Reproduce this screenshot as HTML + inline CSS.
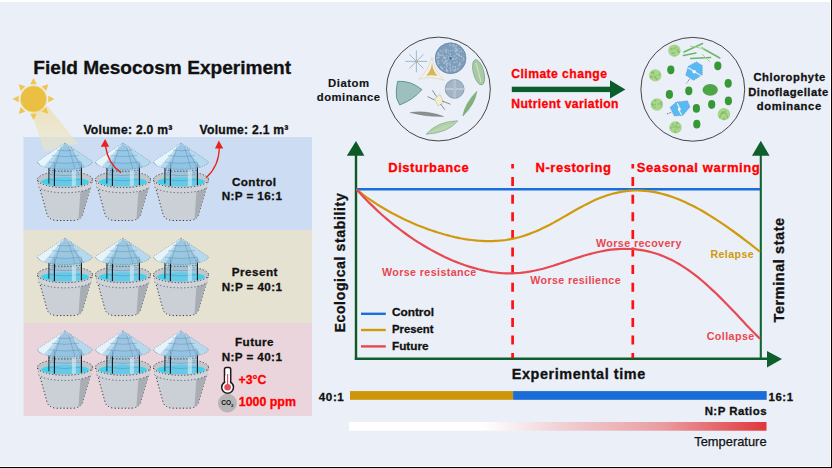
<!DOCTYPE html>
<html><head><meta charset="utf-8"><style>
html,body{margin:0;padding:0;background:#fff;}
svg{display:block;font-family:"Liberation Sans", sans-serif;}
</style></head><body>
<svg width="832" height="468" viewBox="0 0 832 468">
<defs>
<g id="tank">
  <path d="M-27.4,37 L-18.2,70 Q-17,76.5 -9,77.4 L9,77.4 Q17,76.5 18.2,70 L27.6,37 Z" fill="#cbd0d7" stroke="#222" stroke-width="0.9" stroke-dasharray="1.2,2.2"/>
  <path d="M15.5,49 L27.2,39 L18.2,70 Q17.6,74.5 13.5,76.3 Z" fill="#a9aeb5"/>
  <ellipse cx="0.1" cy="42.2" rx="27.2" ry="7.3" fill="#d0d4da"/>
  <path d="M-26.5,44 A27.2,7.3 0 0 0 26.5,44" fill="none" stroke="#444" stroke-width="0.8" stroke-dasharray="1.2,2.2"/>
  <ellipse cx="0.1" cy="36.4" rx="27.5" ry="8.1" fill="#c2c5ca" stroke="#222" stroke-width="0.8" stroke-dasharray="1.2,2"/>
  <ellipse cx="0.1" cy="38.6" rx="23.8" ry="4.6" fill="#3dd2ee"/>
  <path d="M-16,20 L-16,41.5 Q0,46 16.5,41.5 L16.5,20 Z" fill="#86c3e3" opacity="0.55"/>
  <path d="M-15,31.5 Q0,33.5 15,31.5 M-15,36.5 Q0,39 15,36.5" fill="none" stroke="#3f78a0" stroke-width="0.6" opacity="0.6"/>
  <path d="M-16,27 Q0,29 16.5,27" fill="none" stroke="#333" stroke-width="0.7" stroke-dasharray="1.5,1.5"/>
  <rect x="7" y="27" width="4" height="16" fill="#eef8fc" opacity="0.5"/>
  <path d="M-10.5,20 V43 M16.5,20 V42" stroke="#141414" stroke-width="1.1"/>
  <path d="M-16,20 V40.5" stroke="#1a1a1a" stroke-width="0.9"/>
  <path d="M0,0 L-27.5,18.5 A27.5,7.8 0 0 0 27.5,18.5 Z" fill="#8cc2e4" stroke="#3a5a70" stroke-width="0.6" stroke-dasharray="1.2,1.2" opacity="0.82"/>
  <path d="M0,0 L-27.5,18.5 Q-25.5,22 -21,23.6 Z" fill="#eef8fd" opacity="0.9"/>
  <path d="M0,0 L-21,23.6 L-15.5,25 Z" fill="#c3e2f3" opacity="0.75"/>
  <path d="M0,0 L27.5,18.5 Q25.5,22 20,24 Z" fill="#bfdff2" opacity="0.75"/>
  <path d="M-8,7 Q0,8.5 9,7 M-13,12.5 Q0,14.5 14,12.5 M-16,19 Q0,21.5 17,19" fill="none" stroke="#3f78a0" stroke-width="0.6" opacity="0.55"/>
  <path d="M-3.5,3 L-10.5,25.5 M3.5,3 L10,25.5 M5.5,3 L16.5,25.5" stroke="#4d7894" stroke-width="0.5" opacity="0.6"/>
</g>
<linearGradient id="tg" x1="0" x2="1" y1="0" y2="0">
<stop offset="0" stop-color="#ffffff"/><stop offset="0.32" stop-color="#ffffff"/><stop offset="0.4" stop-color="#f8ecee"/><stop offset="0.5" stop-color="#f0d2d6"/><stop offset="0.75" stop-color="#e99da2"/><stop offset="1" stop-color="#e1373b"/>
</linearGradient>
<linearGradient id="beam" x1="0" x2="0" y1="0" y2="1">
<stop offset="0" stop-color="#ecdfae" stop-opacity="0.8"/><stop offset="1" stop-color="#ede6c8" stop-opacity="0.55"/>
</linearGradient>
</defs>
<rect x="0" y="0" width="832" height="468" fill="#ffffff"/>
<rect x="0" y="2" width="830" height="464" fill="#ebeff8"/>
<rect x="831" y="0" width="1" height="468" fill="#000"/>
<rect x="0" y="467" width="832" height="1" fill="#000"/>

<rect x="23.5" y="137" width="288.5" height="93" fill="#ccdcf2"/>
<rect x="23.5" y="230" width="288.5" height="93" fill="#e5e2d2"/>
<rect x="23.5" y="323" width="288.5" height="93" fill="#ebd5dc"/>

<polygon points="31.5,113 47.5,106 78,144 44.6,151.5" fill="url(#beam)"/>
<polygon points="33.5,78.0 36.8,84.2 30.2,84.2" fill="#eec650"/><polygon points="48.3,84.2 46.3,90.9 41.6,86.2" fill="#eec650"/><polygon points="54.5,99.0 48.3,102.3 48.3,95.7" fill="#eec650"/><polygon points="48.3,113.8 41.6,111.8 46.3,107.1" fill="#eec650"/><polygon points="33.5,120.0 30.2,113.8 36.8,113.8" fill="#eec650"/><polygon points="18.7,113.8 20.7,107.1 25.4,111.8" fill="#eec650"/><polygon points="12.5,99.0 18.7,95.7 18.7,102.3" fill="#eec650"/><polygon points="18.7,84.2 25.4,86.2 20.7,90.9" fill="#eec650"/><circle cx="33.5" cy="99" r="13.2" fill="#eabf42" stroke="#f2dc9a" stroke-width="0.8"/>
<text x="33.3" y="73.7" font-size="19.1" fill="#111" font-weight="bold" text-anchor="start"  stroke="#111" stroke-width="0.3">Field Mesocosm Experiment</text>
<text x="83.40" y="133.8" font-size="12.14" letter-spacing="0.274" fill="#111" font-weight="bold" text-anchor="start"  stroke="#111" stroke-width="0.3">Volume: 2.0 m³</text>
<text x="199.50" y="133.8" font-size="12.14" letter-spacing="0.274" fill="#111" font-weight="bold" text-anchor="start"  stroke="#111" stroke-width="0.3">Volume: 2.1 m³</text>
<use href="#tank" x="64.9" y="143.1"/><use href="#tank" x="122.9" y="143.1"/><use href="#tank" x="180.9" y="143.1"/><use href="#tank" x="64.9" y="238.2"/><use href="#tank" x="122.9" y="238.2"/><use href="#tank" x="180.9" y="238.2"/><use href="#tank" x="64.9" y="330.8"/><use href="#tank" x="122.9" y="330.8"/><use href="#tank" x="180.9" y="330.8"/>
<path d="M121,172.6 Q108,164 105.5,146" fill="none" stroke="#e8231b" stroke-width="1.5"/>
<polygon points="105.1,138.9 100.8,146.8 109.2,146.8" fill="#e8231b"/>
<path d="M206.2,177.7 Q219,166 219.3,148" fill="none" stroke="#e8231b" stroke-width="1.25"/>
<polygon points="218.8,140.6 215,148.5 223.2,148.5" fill="#e8231b"/>

<text x="254.22" y="186" font-size="11.70" letter-spacing="0.443" fill="#111" font-weight="bold" text-anchor="middle"  stroke="#111" stroke-width="0.3">Control</text>
<text x="252.00" y="200" font-size="11.70" letter-spacing="0.402" fill="#111" font-weight="bold" text-anchor="middle"  stroke="#111" stroke-width="0.3">N:P = 16:1</text>
<text x="254.83" y="276.2" font-size="11.70" letter-spacing="0.457" fill="#111" font-weight="bold" text-anchor="middle"  stroke="#111" stroke-width="0.3">Present</text>
<text x="252.10" y="290.5" font-size="11.70" letter-spacing="0.402" fill="#111" font-weight="bold" text-anchor="middle"  stroke="#111" stroke-width="0.3">N:P = 40:1</text>
<text x="254.53" y="346.3" font-size="11.70" letter-spacing="0.465" fill="#111" font-weight="bold" text-anchor="middle"  stroke="#111" stroke-width="0.3">Future</text>
<text x="252.00" y="360.5" font-size="11.70" letter-spacing="0.402" fill="#111" font-weight="bold" text-anchor="middle"  stroke="#111" stroke-width="0.3">N:P = 40:1</text>

<g>
<rect x="224.5" y="367.6" width="6.2" height="19" rx="1.8" fill="#fff" stroke="#1a1a1a" stroke-width="1.5"/>
<circle cx="227.6" cy="387.3" r="5.9" fill="#fff" stroke="#1a1a1a" stroke-width="1.5"/>
<rect x="225.3" y="376" width="4.6" height="8" fill="#fff"/>
<line x1="227.6" y1="374" x2="227.6" y2="386" stroke="#e0505c" stroke-width="1.2"/>
<circle cx="227.6" cy="387.3" r="3.3" fill="#e0505c"/>
</g>
<text x="238.5" y="384.4" font-size="12.3" fill="#ff0000" font-weight="bold" text-anchor="start"  stroke="#ff0000" stroke-width="0.3">+3°C</text>
<circle cx="227.4" cy="403.2" r="9.4" fill="#b6b6b8"/>
<text x="227.4" y="405.4" font-size="6.6" font-weight="bold" fill="#111" text-anchor="middle">CO<tspan font-size="4.4" dy="1.4">2</tspan></text>
<text x="238.8" y="406.2" font-size="12.4" fill="#ff0000" font-weight="bold" text-anchor="start"  stroke="#ff0000" stroke-width="0.3">1000 ppm</text>

<text x="348.85" y="86.8" font-size="11.37" letter-spacing="0.492" fill="#111" font-weight="bold" text-anchor="middle" stroke="#111" stroke-width="0.15">Diatom</text>
<text x="348.74" y="101" font-size="11.28" letter-spacing="0.475" fill="#111" font-weight="bold" text-anchor="middle" stroke="#111" stroke-width="0.15">dominance</text>

<g>
  <circle cx="438.4" cy="89.05" r="51.9" fill="none" stroke="#262626" stroke-width="0.85"/>
  <circle cx="450.6" cy="58.2" r="15.5" fill="#6f92b3"/><circle cx="450.6" cy="58.2" r="15" fill="#7d9cba"/><circle cx="459.2" cy="67.8" r="0.5" fill="#a9c0d6"/><circle cx="450.3" cy="68.0" r="0.7" fill="#a9c0d6"/><circle cx="442.1" cy="59.7" r="0.5" fill="#a9c0d6"/><circle cx="452.6" cy="59.5" r="0.7" fill="#a9c0d6"/><circle cx="439.5" cy="63.2" r="0.5" fill="#a9c0d6"/><circle cx="448.2" cy="51.4" r="0.5" fill="#a9c0d6"/><circle cx="446.8" cy="55.8" r="0.7" fill="#a9c0d6"/><circle cx="452.8" cy="58.6" r="0.9" fill="#a9c0d6"/><circle cx="463.7" cy="59.0" r="0.9" fill="#a9c0d6"/><circle cx="452.5" cy="67.1" r="0.5" fill="#a9c0d6"/><circle cx="438.5" cy="56.1" r="0.7" fill="#a9c0d6"/><circle cx="442.8" cy="55.5" r="0.9" fill="#a9c0d6"/><circle cx="452.4" cy="67.5" r="0.7" fill="#a9c0d6"/><circle cx="458.7" cy="54.2" r="0.9" fill="#a9c0d6"/><circle cx="454.5" cy="56.1" r="0.9" fill="#a9c0d6"/><circle cx="463.6" cy="57.6" r="0.5" fill="#a9c0d6"/><circle cx="450.0" cy="45.0" r="0.9" fill="#a9c0d6"/><circle cx="436.8" cy="58.1" r="0.9" fill="#a9c0d6"/><circle cx="456.1" cy="48.2" r="0.7" fill="#a9c0d6"/><circle cx="447.7" cy="71.7" r="0.7" fill="#a9c0d6"/><circle cx="456.3" cy="50.0" r="0.9" fill="#a9c0d6"/><circle cx="456.5" cy="50.5" r="0.9" fill="#a9c0d6"/><circle cx="453.2" cy="49.6" r="0.5" fill="#a9c0d6"/><circle cx="441.8" cy="67.9" r="0.9" fill="#a9c0d6"/><circle cx="450.3" cy="54.1" r="0.9" fill="#a9c0d6"/><circle cx="438.3" cy="57.5" r="0.9" fill="#a9c0d6"/><circle cx="455.2" cy="51.0" r="0.9" fill="#a9c0d6"/><circle cx="453.5" cy="58.7" r="0.9" fill="#a9c0d6"/><circle cx="457.0" cy="49.3" r="0.9" fill="#a9c0d6"/><circle cx="446.1" cy="61.8" r="0.9" fill="#a9c0d6"/><circle cx="450.8" cy="59.7" r="0.5" fill="#a9c0d6"/><circle cx="438.0" cy="55.0" r="0.5" fill="#a9c0d6"/><circle cx="443.8" cy="62.8" r="0.9" fill="#a9c0d6"/><circle cx="442.5" cy="68.8" r="0.9" fill="#a9c0d6"/><circle cx="437.5" cy="54.1" r="0.5" fill="#a9c0d6"/><circle cx="440.9" cy="66.9" r="0.9" fill="#a9c0d6"/><circle cx="445.6" cy="57.8" r="0.9" fill="#a9c0d6"/><circle cx="454.4" cy="71.3" r="0.7" fill="#a9c0d6"/><circle cx="457.8" cy="50.5" r="0.5" fill="#a9c0d6"/><circle cx="459.0" cy="54.9" r="0.7" fill="#a9c0d6"/><circle cx="450.1" cy="58.5" r="0.9" fill="#a9c0d6"/><circle cx="442.8" cy="50.5" r="0.7" fill="#a9c0d6"/><circle cx="440.4" cy="50.8" r="0.9" fill="#a9c0d6"/><circle cx="455.3" cy="67.8" r="0.5" fill="#a9c0d6"/><circle cx="454.3" cy="46.3" r="0.7" fill="#a9c0d6"/><circle cx="463.9" cy="61.0" r="0.5" fill="#a9c0d6"/><circle cx="452.2" cy="59.1" r="0.5" fill="#a9c0d6"/><circle cx="450.8" cy="50.8" r="0.7" fill="#a9c0d6"/><circle cx="459.1" cy="65.2" r="0.7" fill="#a9c0d6"/><circle cx="449.2" cy="63.7" r="0.7" fill="#a9c0d6"/><circle cx="444.9" cy="57.2" r="0.7" fill="#a9c0d6"/><circle cx="446.1" cy="52.1" r="0.9" fill="#a9c0d6"/><circle cx="446.4" cy="66.9" r="0.5" fill="#a9c0d6"/><circle cx="447.5" cy="65.8" r="0.5" fill="#a9c0d6"/><circle cx="450.2" cy="65.2" r="0.9" fill="#a9c0d6"/><circle cx="444.2" cy="57.8" r="0.9" fill="#a9c0d6"/><circle cx="438.0" cy="64.0" r="0.5" fill="#a9c0d6"/><circle cx="455.9" cy="58.8" r="0.9" fill="#a9c0d6"/><circle cx="459.7" cy="55.9" r="0.9" fill="#a9c0d6"/><circle cx="446.1" cy="48.9" r="0.5" fill="#a9c0d6"/><circle cx="461.6" cy="56.6" r="0.9" fill="#a9c0d6"/><circle cx="444.0" cy="57.5" r="0.9" fill="#a9c0d6"/><circle cx="461.9" cy="60.4" r="0.7" fill="#a9c0d6"/><circle cx="445.7" cy="50.5" r="0.9" fill="#a9c0d6"/><circle cx="446.5" cy="71.3" r="0.5" fill="#a9c0d6"/><circle cx="446.1" cy="70.4" r="0.7" fill="#a9c0d6"/><circle cx="457.2" cy="54.4" r="0.5" fill="#a9c0d6"/><circle cx="444.5" cy="61.7" r="0.5" fill="#a9c0d6"/><circle cx="438.6" cy="53.4" r="0.9" fill="#a9c0d6"/><circle cx="456.4" cy="45.8" r="0.9" fill="#a9c0d6"/><circle cx="438.2" cy="61.3" r="0.9" fill="#a9c0d6"/><circle cx="448.7" cy="56.3" r="0.5" fill="#a9c0d6"/><circle cx="447.0" cy="63.4" r="0.9" fill="#a9c0d6"/><circle cx="459.2" cy="51.7" r="0.7" fill="#a9c0d6"/><circle cx="459.7" cy="65.2" r="0.7" fill="#a9c0d6"/><circle cx="448.8" cy="58.2" r="0.9" fill="#a9c0d6"/><circle cx="459.8" cy="48.6" r="0.5" fill="#a9c0d6"/><circle cx="457.8" cy="69.0" r="0.9" fill="#a9c0d6"/><circle cx="452.3" cy="50.2" r="0.5" fill="#a9c0d6"/><circle cx="450.1" cy="62.5" r="0.7" fill="#a9c0d6"/><circle cx="458.1" cy="54.8" r="0.9" fill="#a9c0d6"/><circle cx="438.6" cy="55.6" r="0.9" fill="#a9c0d6"/><circle cx="451.7" cy="70.1" r="0.5" fill="#a9c0d6"/><circle cx="454.4" cy="62.4" r="0.9" fill="#a9c0d6"/><circle cx="453.4" cy="70.1" r="0.9" fill="#a9c0d6"/><circle cx="443.5" cy="57.9" r="0.7" fill="#a9c0d6"/><circle cx="446.5" cy="64.6" r="0.9" fill="#a9c0d6"/><circle cx="452.8" cy="46.6" r="0.7" fill="#a9c0d6"/><circle cx="457.5" cy="66.0" r="0.5" fill="#a9c0d6"/><circle cx="446.8" cy="66.3" r="0.7" fill="#a9c0d6"/><circle cx="458.9" cy="48.9" r="0.5" fill="#a9c0d6"/><circle cx="444.7" cy="67.4" r="0.7" fill="#a9c0d6"/><circle cx="459.8" cy="63.0" r="0.9" fill="#a9c0d6"/><circle cx="456.9" cy="61.8" r="0.7" fill="#a9c0d6"/><circle cx="438.2" cy="52.9" r="0.7" fill="#a9c0d6"/><circle cx="454.3" cy="55.4" r="0.5" fill="#a9c0d6"/><circle cx="451.3" cy="56.8" r="0.9" fill="#a9c0d6"/><circle cx="459.6" cy="59.0" r="0.5" fill="#a9c0d6"/><circle cx="455.3" cy="69.7" r="0.9" fill="#a9c0d6"/><circle cx="446.4" cy="60.5" r="0.5" fill="#a9c0d6"/><circle cx="448.3" cy="53.1" r="0.5" fill="#a9c0d6"/><circle cx="438.0" cy="63.7" r="0.9" fill="#a9c0d6"/><circle cx="457.0" cy="54.1" r="0.7" fill="#a9c0d6"/><circle cx="448.7" cy="50.6" r="0.5" fill="#a9c0d6"/><circle cx="449.0" cy="55.9" r="0.5" fill="#a9c0d6"/><circle cx="453.7" cy="45.1" r="0.9" fill="#a9c0d6"/><circle cx="442.9" cy="52.8" r="0.7" fill="#a9c0d6"/><circle cx="447.7" cy="60.3" r="0.7" fill="#a9c0d6"/><circle cx="464.1" cy="55.6" r="0.5" fill="#a9c0d6"/><circle cx="450.6" cy="70.6" r="0.9" fill="#a9c0d6"/><circle cx="457.1" cy="51.1" r="0.7" fill="#a9c0d6"/><circle cx="450.0" cy="68.5" r="0.7" fill="#a9c0d6"/><circle cx="453.2" cy="66.2" r="0.7" fill="#a9c0d6"/><circle cx="460.9" cy="64.7" r="0.5" fill="#a9c0d6"/><circle cx="444.1" cy="49.0" r="0.5" fill="#a9c0d6"/><circle cx="444.6" cy="63.1" r="0.7" fill="#a9c0d6"/><circle cx="455.4" cy="69.7" r="0.9" fill="#a9c0d6"/><circle cx="456.6" cy="53.4" r="0.7" fill="#a9c0d6"/><circle cx="459.4" cy="64.7" r="0.9" fill="#a9c0d6"/><circle cx="456.1" cy="61.8" r="0.5" fill="#a9c0d6"/><circle cx="444.7" cy="62.4" r="0.5" fill="#a9c0d6"/><circle cx="450.3" cy="56.2" r="0.5" fill="#a9c0d6"/><circle cx="447.4" cy="70.3" r="0.7" fill="#a9c0d6"/><circle cx="437.9" cy="60.7" r="0.5" fill="#a9c0d6"/><circle cx="438.1" cy="58.1" r="0.5" fill="#a9c0d6"/><circle cx="439.2" cy="57.5" r="0.5" fill="#a9c0d6"/><circle cx="452.9" cy="44.5" r="0.7" fill="#a9c0d6"/><circle cx="446.6" cy="69.3" r="0.9" fill="#a9c0d6"/><circle cx="447.0" cy="70.9" r="0.5" fill="#a9c0d6"/><circle cx="439.2" cy="54.8" r="0.7" fill="#a9c0d6"/><circle cx="455.4" cy="48.2" r="0.9" fill="#a9c0d6"/><circle cx="461.3" cy="51.1" r="0.9" fill="#a9c0d6"/><circle cx="456.9" cy="57.7" r="0.7" fill="#a9c0d6"/><circle cx="445.5" cy="60.5" r="0.9" fill="#a9c0d6"/><circle cx="455.1" cy="52.9" r="0.5" fill="#a9c0d6"/><circle cx="446.7" cy="49.7" r="0.7" fill="#a9c0d6"/><circle cx="440.8" cy="55.1" r="0.9" fill="#a9c0d6"/><circle cx="442.2" cy="60.7" r="0.7" fill="#a9c0d6"/><circle cx="455.2" cy="66.8" r="0.9" fill="#a9c0d6"/><circle cx="463.2" cy="52.5" r="0.5" fill="#a9c0d6"/><circle cx="450.6" cy="58.2" r="15.3" fill="none" stroke="#6a8cae" stroke-width="0.8"/>
  <circle cx="450.6" cy="58.2" r="1.2" fill="#2a6fb0"/>
  <g stroke="#8fb3d4" stroke-width="0.9"><line x1="416.4" y1="61.4" x2="427.4" y2="61.4"/><line x1="416.4" y1="61.4" x2="423.5" y2="68.5"/><line x1="416.4" y1="61.4" x2="416.4" y2="72.4"/><line x1="416.4" y1="61.4" x2="409.3" y2="68.5"/><line x1="416.4" y1="61.4" x2="405.4" y2="61.4"/><line x1="416.4" y1="61.4" x2="409.3" y2="54.3"/><line x1="416.4" y1="61.4" x2="416.4" y2="50.4"/><line x1="416.4" y1="61.4" x2="423.5" y2="54.3"/></g><circle cx="416.4" cy="61.4" r="1.3" fill="#c9b05c"/>
  <path d="M431.9,57.5 Q429,70 418.5,79.2 Q431,75.5 444,80.3 Q434,70 431.9,57.5 Z" fill="#f3f1e8" stroke="#d3cdb8" stroke-width="0.6"/>
  <path d="M432,63 Q431,71 426,75.8 Q432,74.5 437.5,76 Q433,71 432,63 Z" fill="#d6b55c"/>
  <ellipse cx="478.6" cy="72.3" rx="5.2" ry="13" transform="rotate(-15 478.6 72.3)" fill="#a9c9a3" stroke="#73a48c" stroke-width="0.7"/><path d="M476,63 Q478.6,72 481,82" fill="none" stroke="#d3e5cc" stroke-width="1"/>
  <path d="M397.6,81.3 Q411,80.5 421.9,89.6 Q413,100 399.7,104.9 Q395,98 396.3,90 Z" fill="#9dc0bf" stroke="#5f9696" stroke-width="1"/>
  <circle cx="454.6" cy="88.9" r="9.4" fill="#a2b4c5" stroke="#7f96a9" stroke-width="0.8"/>
  <path d="M445.5,88.9 H463.7 M454.6,79.6 V98.2" stroke="#cfdbe4" stroke-width="1.6"/>
  <path d="M445.5,88.9 H463.7 M454.6,79.6 V98.2" stroke="#8295a5" stroke-width="0.4"/>
  <polygon points="434.5,98.5 440,94.5 443.5,102.5 438,106" fill="#f2eed2" stroke="#b8b496" stroke-width="0.5"/>
  <path d="M432.4,90.3 L436.5,96.5 M427.5,96.5 L434.5,100 M450.4,104.2 L442,101 M444.9,109.7 L440.5,104" stroke="#4a4a4a" stroke-width="0.6"/>
  <path d="M476.8,91.4 Q475,104 462.9,116 Q465,103 476.8,91.4 Z" fill="#82b27c" stroke="#5e9a5e" stroke-width="0.5"/>
  <path d="M410.1,112.6 Q426,110 443.5,116.4 Q426,117 410.1,112.6 Z" fill="#8c908e" stroke="#777" stroke-width="0.4"/>
  <path d="M426.1,134.2 Q438,121 457.8,120.8 Q448,133 426.1,134.2 Z" fill="#bad6b0" stroke="#80a98a" stroke-width="0.7"/>
  <path d="M430,131 Q442,124 454,122.5" fill="none" stroke="#93bb8c" stroke-width="0.5"/>
</g>
<text x="511.30" y="78.3" font-size="12.17" letter-spacing="0.442" fill="#ff0000" font-weight="bold" text-anchor="start"  stroke="#ff0000" stroke-width="0.3">Climate change</text>
<text x="511.30" y="108" font-size="12.17" letter-spacing="0.378" fill="#ff0000" font-weight="bold" text-anchor="start"  stroke="#ff0000" stroke-width="0.3">Nutrient variation</text>
<rect x="511.8" y="86.7" width="99" height="5.4" fill="#0b5e2b"/>
<polygon points="610,80.3 625.4,89.4 610,98.4" fill="#0b5e2b"/>
<circle cx="692.8" cy="89.3" r="51.9" fill="none" stroke="#262626" stroke-width="0.85"/><circle cx="674.4" cy="50.6" r="6.2" fill="#a9d58e"/><circle cx="671.3" cy="49.1" r="0.9" fill="#7bbd5c"/><circle cx="677.9" cy="50.9" r="0.7" fill="#7bbd5c"/><circle cx="676.3" cy="46.8" r="0.5" fill="#7bbd5c"/><circle cx="678.0" cy="51.4" r="0.5" fill="#7bbd5c"/><circle cx="674.4" cy="55.7" r="0.7" fill="#7bbd5c"/><circle cx="679.0" cy="51.9" r="0.9" fill="#7bbd5c"/><circle cx="672.3" cy="53.3" r="0.9" fill="#7bbd5c"/><circle cx="674.2" cy="52.8" r="0.7" fill="#7bbd5c"/><circle cx="673.4" cy="49.0" r="0.5" fill="#7bbd5c"/><circle cx="678.4" cy="49.8" r="0.5" fill="#7bbd5c"/><circle cx="672.2" cy="49.3" r="0.5" fill="#7bbd5c"/><circle cx="677.1" cy="49.6" r="0.7" fill="#7bbd5c"/><circle cx="674.8" cy="48.1" r="0.9" fill="#7bbd5c"/><circle cx="671.1" cy="49.6" r="0.5" fill="#7bbd5c"/><circle cx="655.3" cy="75.4" r="6.2" fill="#a9d58e"/><circle cx="651.6" cy="76.5" r="0.7" fill="#7bbd5c"/><circle cx="650.7" cy="76.8" r="0.5" fill="#7bbd5c"/><circle cx="656.8" cy="78.8" r="0.9" fill="#7bbd5c"/><circle cx="653.6" cy="73.9" r="0.7" fill="#7bbd5c"/><circle cx="654.8" cy="76.9" r="0.9" fill="#7bbd5c"/><circle cx="652.6" cy="72.4" r="0.7" fill="#7bbd5c"/><circle cx="659.4" cy="74.5" r="0.9" fill="#7bbd5c"/><circle cx="652.9" cy="72.1" r="0.9" fill="#7bbd5c"/><circle cx="656.2" cy="75.8" r="0.5" fill="#7bbd5c"/><circle cx="651.6" cy="72.7" r="0.7" fill="#7bbd5c"/><circle cx="650.9" cy="77.1" r="0.9" fill="#7bbd5c"/><circle cx="655.6" cy="78.2" r="0.5" fill="#7bbd5c"/><circle cx="653.5" cy="72.4" r="0.7" fill="#7bbd5c"/><circle cx="652.1" cy="77.5" r="0.5" fill="#7bbd5c"/><circle cx="656.9" cy="104.5" r="6.2" fill="#a9d58e"/><circle cx="652.7" cy="105.2" r="0.9" fill="#7bbd5c"/><circle cx="655.0" cy="107.1" r="0.7" fill="#7bbd5c"/><circle cx="652.8" cy="105.0" r="0.7" fill="#7bbd5c"/><circle cx="655.4" cy="100.7" r="0.9" fill="#7bbd5c"/><circle cx="661.0" cy="104.5" r="0.7" fill="#7bbd5c"/><circle cx="654.9" cy="106.7" r="0.5" fill="#7bbd5c"/><circle cx="661.3" cy="106.2" r="0.5" fill="#7bbd5c"/><circle cx="652.2" cy="104.1" r="0.9" fill="#7bbd5c"/><circle cx="653.0" cy="107.2" r="0.5" fill="#7bbd5c"/><circle cx="661.0" cy="102.2" r="0.9" fill="#7bbd5c"/><circle cx="655.3" cy="104.4" r="0.7" fill="#7bbd5c"/><circle cx="658.5" cy="103.9" r="0.7" fill="#7bbd5c"/><circle cx="660.7" cy="103.8" r="0.9" fill="#7bbd5c"/><circle cx="652.1" cy="102.7" r="0.5" fill="#7bbd5c"/><circle cx="675.5" cy="127.4" r="6.2" fill="#a9d58e"/><circle cx="675.3" cy="131.7" r="0.9" fill="#7bbd5c"/><circle cx="677.1" cy="122.8" r="0.9" fill="#7bbd5c"/><circle cx="675.7" cy="129.4" r="0.5" fill="#7bbd5c"/><circle cx="674.1" cy="125.7" r="0.5" fill="#7bbd5c"/><circle cx="673.1" cy="126.9" r="0.7" fill="#7bbd5c"/><circle cx="677.3" cy="127.7" r="0.9" fill="#7bbd5c"/><circle cx="675.0" cy="127.0" r="0.7" fill="#7bbd5c"/><circle cx="676.3" cy="126.1" r="0.7" fill="#7bbd5c"/><circle cx="677.6" cy="123.4" r="0.5" fill="#7bbd5c"/><circle cx="676.2" cy="124.9" r="0.5" fill="#7bbd5c"/><circle cx="671.0" cy="127.8" r="0.9" fill="#7bbd5c"/><circle cx="679.7" cy="126.9" r="0.7" fill="#7bbd5c"/><circle cx="672.8" cy="124.2" r="0.7" fill="#7bbd5c"/><circle cx="677.5" cy="123.2" r="0.7" fill="#7bbd5c"/><circle cx="723.9" cy="114.2" r="6.2" fill="#a9d58e"/><circle cx="727.3" cy="116.9" r="0.9" fill="#7bbd5c"/><circle cx="721.4" cy="113.8" r="0.9" fill="#7bbd5c"/><circle cx="723.7" cy="118.7" r="0.9" fill="#7bbd5c"/><circle cx="720.5" cy="115.3" r="0.7" fill="#7bbd5c"/><circle cx="720.0" cy="117.3" r="0.7" fill="#7bbd5c"/><circle cx="724.7" cy="119.1" r="0.7" fill="#7bbd5c"/><circle cx="725.0" cy="111.3" r="0.9" fill="#7bbd5c"/><circle cx="722.5" cy="112.7" r="0.9" fill="#7bbd5c"/><circle cx="722.5" cy="111.8" r="0.5" fill="#7bbd5c"/><circle cx="722.8" cy="112.7" r="0.7" fill="#7bbd5c"/><circle cx="726.6" cy="114.7" r="0.7" fill="#7bbd5c"/><circle cx="719.6" cy="117.1" r="0.7" fill="#7bbd5c"/><circle cx="725.2" cy="113.2" r="0.9" fill="#7bbd5c"/><circle cx="723.2" cy="112.6" r="0.9" fill="#7bbd5c"/><ellipse cx="670.8" cy="69.8" rx="3.6" ry="4.4" fill="#369936"/><ellipse cx="717.8" cy="65.8" rx="3.6" ry="4.4" fill="#369936"/><ellipse cx="728.2" cy="83.3" rx="3.6" ry="4.4" fill="#369936"/><ellipse cx="669.4" cy="94.5" rx="3.6" ry="4.4" fill="#369936"/><ellipse cx="688.8" cy="90.8" rx="3.6" ry="4.4" fill="#369936"/><ellipse cx="696.4" cy="108.4" rx="3.6" ry="4.4" fill="#369936"/><ellipse cx="711.7" cy="104.5" rx="3.6" ry="4.4" fill="#369936"/><ellipse cx="728.4" cy="100.8" rx="3.6" ry="4.4" fill="#369936"/><ellipse cx="696.8" cy="124.2" rx="3.6" ry="4.4" fill="#369936"/><ellipse cx="710.2" cy="89.9" rx="7.7" ry="5.9" fill="#4ca647"/><g stroke="#6cb668" stroke-width="1.5" fill="none" stroke-linecap="round"><path d="M684,52 L702.6,43.5"/><path d="M683.4,55.5 L696,53"/><path d="M690.7,58.5 L710.6,57.5"/><path d="M702,48 L719.8,58"/></g><g stroke="#a6d3a0" stroke-width="1" fill="none"><path d="M690,46 L705,49"/><path d="M702,54 L710,62"/></g><polygon points="688.2,66.2 696.5,61.7 702.4,65.5 702.4,74.8 693.5,80.4 685.6,75.2" fill="#5bb8f0" stroke="#3d7fb0" stroke-width="0.5" stroke-dasharray="0.8,1.5"/><path d="M688.2,67.7 L701,75.6" stroke="#eef6fb" stroke-width="1.1"/><circle cx="694.2" cy="71.8" r="1.7" fill="#f3f9fd"/><path d="M689.7,78.9 L686.4,83.4" stroke="#333" stroke-width="0.7" stroke-dasharray="1,0.7"/><polygon points="670,107.5 676.1,102 687.6,100.8 690.1,106.9 682.8,115.5 674.2,116.1" fill="#5bb8f0" stroke="#3d7fb0" stroke-width="0.5" stroke-dasharray="0.8,1.5"/><path d="M677.3,103.3 L679.5,108 L678.5,109.5 L681.5,114.8" stroke="#eef6fb" stroke-width="1.1" fill="none"/><circle cx="679.3" cy="109" r="1.5" fill="#f3f9fd"/><path d="M671.2,112.4 L666.3,114.2" stroke="#333" stroke-width="0.7" stroke-dasharray="1,0.7"/>
<text x="789.59" y="81" font-size="11.22" letter-spacing="0.575" fill="#111" font-weight="bold" text-anchor="middle"  stroke="#111" stroke-width="0.3">Chlorophyte</text>
<text x="788.45" y="95.5" font-size="11.22" letter-spacing="0.492" fill="#111" font-weight="bold" text-anchor="middle"  stroke="#111" stroke-width="0.3">Dinoflagellate</text>
<text x="789.32" y="109.5" font-size="11.22" letter-spacing="0.644" fill="#111" font-weight="bold" text-anchor="middle"  stroke="#111" stroke-width="0.3">dominance</text>

<line x1="356" y1="154" x2="356" y2="359.5" stroke="#0d5a26" stroke-width="2.4"/>
<polygon points="356,141 346.8,155.8 364.4,155.8" fill="#0d5a26"/>
<line x1="354.8" y1="358.8" x2="768" y2="358.8" stroke="#0e5f2b" stroke-width="2.4"/>
<polygon points="782,359.1 767,350.9 767,367.4" fill="#0e5f2b"/>
<line x1="760.8" y1="154" x2="760.8" y2="358.8" stroke="#106530" stroke-width="2.1"/>
<polygon points="760.8,140.8 752,155.8 769.6,155.8" fill="#0e5f2b"/>

<line x1="512.6" y1="164" x2="512.6" y2="358" stroke="#ff1111" stroke-width="2.7" stroke-dasharray="9,8.6" stroke-dashoffset="4.5"/>
<line x1="632.8" y1="164" x2="632.8" y2="358" stroke="#ff1111" stroke-width="2.7" stroke-dasharray="9,8.6" stroke-dashoffset="4.5"/>
<line x1="356" y1="189.2" x2="760" y2="189.2" stroke="#1a6fd8" stroke-width="2.4"/>
<path d="M356.5,189.5 L359.9,192.2 L363.3,194.8 L366.7,197.3 L370.1,199.6 L373.5,201.9 L376.8,204.2 L380.2,206.3 L383.6,208.3 L387.0,210.3 L390.4,212.2 L393.8,214.1 L397.2,215.8 L400.6,217.5 L404.0,219.2 L407.4,220.8 L410.8,222.3 L414.1,223.8 L417.5,225.2 L420.9,226.5 L424.3,227.8 L427.7,229.1 L431.1,230.3 L434.5,231.4 L437.9,232.5 L441.3,233.5 L444.7,234.5 L448.1,235.4 L451.4,236.3 L454.8,237.1 L458.2,237.8 L461.6,238.5 L465.0,239.1 L468.4,239.6 L471.8,240.0 L475.2,240.4 L478.6,240.7 L482.0,240.9 L485.3,241.1 L488.7,241.1 L492.1,241.1 L495.5,240.9 L498.9,240.7 L502.3,240.4 L505.7,240.0 L509.1,239.4 L512.5,238.8 L515.9,238.0 L519.3,237.2 L522.6,236.2 L526.0,235.1 L529.4,233.9 L532.8,232.6 L536.2,231.2 L539.6,229.7 L543.0,228.1 L546.4,226.4 L549.8,224.7 L553.2,222.9 L556.6,221.0 L559.9,219.1 L563.3,217.1 L566.7,215.2 L570.1,213.2 L573.5,211.3 L576.9,209.3 L580.3,207.5 L583.7,205.6 L587.1,203.9 L590.5,202.2 L593.9,200.6 L597.2,199.1 L600.6,197.7 L604.0,196.5 L607.4,195.3 L610.8,194.3 L614.2,193.3 L617.6,192.6 L621.0,191.9 L624.4,191.4 L627.8,190.9 L631.2,190.7 L634.5,190.5 L637.9,190.5 L641.3,190.6 L644.7,190.8 L648.1,191.1 L651.5,191.6 L654.9,192.2 L658.3,192.9 L661.7,193.7 L665.1,194.6 L668.4,195.6 L671.8,196.8 L675.2,198.0 L678.6,199.3 L682.0,200.8 L685.4,202.3 L688.8,203.9 L692.2,205.5 L695.6,207.3 L699.0,209.1 L702.4,211.0 L705.7,213.0 L709.1,215.1 L712.5,217.2 L715.9,219.3 L719.3,221.6 L722.7,223.8 L726.1,226.2 L729.5,228.6 L732.9,231.0 L736.3,233.5 L739.7,236.0 L743.0,238.5 L746.4,241.1 L749.8,243.7 L753.2,246.3 L756.6,249.0 L760.0,251.7" fill="none" stroke="#d09a0c" stroke-width="2.2"/>
<path d="M356.5,189.5 L359.9,193.1 L363.3,196.7 L366.7,200.2 L370.1,203.6 L373.5,206.9 L376.8,210.1 L380.2,213.2 L383.6,216.2 L387.0,219.1 L390.4,222.0 L393.8,224.8 L397.2,227.4 L400.6,230.0 L404.0,232.5 L407.4,235.0 L410.8,237.3 L414.1,239.6 L417.5,241.8 L420.9,243.9 L424.3,246.0 L427.7,248.0 L431.1,249.9 L434.5,251.7 L437.9,253.5 L441.3,255.2 L444.7,256.9 L448.1,258.4 L451.4,260.0 L454.8,261.4 L458.2,262.7 L461.6,264.0 L465.0,265.3 L468.4,266.4 L471.8,267.4 L475.2,268.4 L478.6,269.3 L482.0,270.1 L485.3,270.9 L488.7,271.5 L492.1,272.1 L495.5,272.5 L498.9,272.9 L502.3,273.2 L505.7,273.3 L509.1,273.4 L512.5,273.4 L515.9,273.2 L519.3,273.0 L522.6,272.6 L526.0,272.2 L529.4,271.7 L532.8,271.0 L536.2,270.3 L539.6,269.5 L543.0,268.7 L546.4,267.7 L549.8,266.7 L553.2,265.7 L556.6,264.6 L559.9,263.5 L563.3,262.4 L566.7,261.3 L570.1,260.1 L573.5,259.0 L576.9,257.9 L580.3,256.9 L583.7,255.8 L587.1,254.8 L590.5,253.9 L593.9,253.0 L597.2,252.2 L600.6,251.5 L604.0,250.8 L607.4,250.2 L610.8,249.7 L614.2,249.4 L617.6,249.1 L621.0,248.9 L624.4,248.8 L627.8,248.8 L631.2,249.0 L634.5,249.2 L637.9,249.6 L641.3,250.1 L644.7,250.7 L648.1,251.4 L651.5,252.2 L654.9,253.2 L658.3,254.3 L661.7,255.6 L665.1,257.0 L668.4,258.5 L671.8,260.1 L675.2,261.9 L678.6,263.8 L682.0,265.9 L685.4,268.1 L688.8,270.4 L692.2,272.9 L695.6,275.4 L699.0,278.2 L702.4,281.0 L705.7,283.9 L709.1,287.0 L712.5,290.1 L715.9,293.3 L719.3,296.6 L722.7,300.0 L726.1,303.5 L729.5,307.0 L732.9,310.5 L736.3,314.1 L739.7,317.7 L743.0,321.3 L746.4,324.9 L749.8,328.4 L753.2,332.0 L756.6,335.4 L760.0,338.8" fill="none" stroke="#e84850" stroke-width="2.2"/>

<text x="388.30" y="172.2" font-size="12.93" letter-spacing="0.562" fill="#ff0000" font-weight="bold" text-anchor="start"  stroke="#ff0000" stroke-width="0.3">Disturbance</text>
<text x="535.50" y="172" font-size="13.02" letter-spacing="0.528" fill="#ff0000" font-weight="bold" text-anchor="start"  stroke="#ff0000" stroke-width="0.3">N-restoring</text>
<text x="636.80" y="172.3" font-size="13.02" letter-spacing="0.574" fill="#ff0000" font-weight="bold" text-anchor="start"  stroke="#ff0000" stroke-width="0.3">Seasonal warming</text>
<text x="382.00" y="275.5" font-size="10.72" letter-spacing="0.377" fill="#e84850" font-weight="bold" text-anchor="start" stroke="#ebeff8" stroke-width="1.6" paint-order="stroke">Worse resistance</text>
<text x="530.20" y="283.6" font-size="10.72" letter-spacing="0.362" fill="#e84850" font-weight="bold" text-anchor="start" stroke="#ebeff8" stroke-width="1.6" paint-order="stroke">Worse resilience</text>
<text x="596.00" y="246.7" font-size="10.72" letter-spacing="0.394" fill="#e84850" font-weight="bold" text-anchor="start" stroke="#ebeff8" stroke-width="1.6" paint-order="stroke">Worse recovery</text>
<text x="710.40" y="258.2" font-size="10.62" letter-spacing="0.433" fill="#d09a0c" font-weight="bold" text-anchor="start" stroke="#ebeff8" stroke-width="1.6" paint-order="stroke">Relapse</text>
<text x="706.70" y="339.8" font-size="10.72" letter-spacing="0.407" fill="#e84850" font-weight="bold" text-anchor="start" stroke="#ebeff8" stroke-width="1.6" paint-order="stroke">Collapse</text>

<line x1="361" y1="313.8" x2="385.8" y2="313.8" stroke="#1a6fd8" stroke-width="2.4"/>
<line x1="361" y1="330" x2="385.8" y2="330" stroke="#d09a0c" stroke-width="2.4"/>
<line x1="361" y1="346.4" x2="385.8" y2="346.4" stroke="#e84850" stroke-width="2.4"/>
<text x="392" y="315.9" font-size="11.8" fill="#111" font-weight="bold" text-anchor="start"  stroke="#111" stroke-width="0.3">Control</text>
<text x="392" y="332.8" font-size="11.3" fill="#111" font-weight="bold" text-anchor="start"  stroke="#111" stroke-width="0.3">Present</text>
<text x="392" y="349.5" font-size="11.75" fill="#111" font-weight="bold" text-anchor="start"  stroke="#111" stroke-width="0.3">Future</text>

<text x="511.80" y="379.2" font-size="14.42" letter-spacing="0.584" fill="#111" font-weight="bold" text-anchor="start" stroke="#111" stroke-width="0.3">Experimental time</text>
<text x="345.00" y="332.6" font-size="14.17" letter-spacing="0.587" fill="#111" font-weight="bold" text-anchor="start" transform="rotate(-90 345.0 332.6)" stroke="#111" stroke-width="0.3">Ecological stability</text>
<text x="784.20" y="322.4" font-size="14.51" letter-spacing="0.563" fill="#111" font-weight="bold" text-anchor="start" transform="rotate(-90 784.2 322.4)" stroke="#111" stroke-width="0.3">Terminal state</text>

<rect x="350" y="391.1" width="163.1" height="8.7" fill="#cf9508"/>
<rect x="513.1" y="391.1" width="253.6" height="8.7" fill="#1a6cd6"/>
<text x="318.80" y="400.8" font-size="11.62" letter-spacing="0.584" fill="#111" font-weight="bold" text-anchor="start"  stroke="#111" stroke-width="0.3">40:1</text>
<text x="768.60" y="400.6" font-size="11.35" letter-spacing="0.570" fill="#111" font-weight="bold" text-anchor="start"  stroke="#111" stroke-width="0.3">16:1</text>
<text x="767.08" y="414.6" font-size="11.44" letter-spacing="0.482" fill="#111" font-weight="bold" text-anchor="end"  stroke="#111" stroke-width="0.3">N:P Ratios</text>
<rect x="349" y="422" width="417.5" height="8.7" fill="url(#tg)"/>
<text x="766.6" y="445.5" font-size="12.9" fill="#111" font-weight="normal" text-anchor="end" stroke="#111" stroke-width="0.25">Temperature</text>
</svg>
</body></html>
